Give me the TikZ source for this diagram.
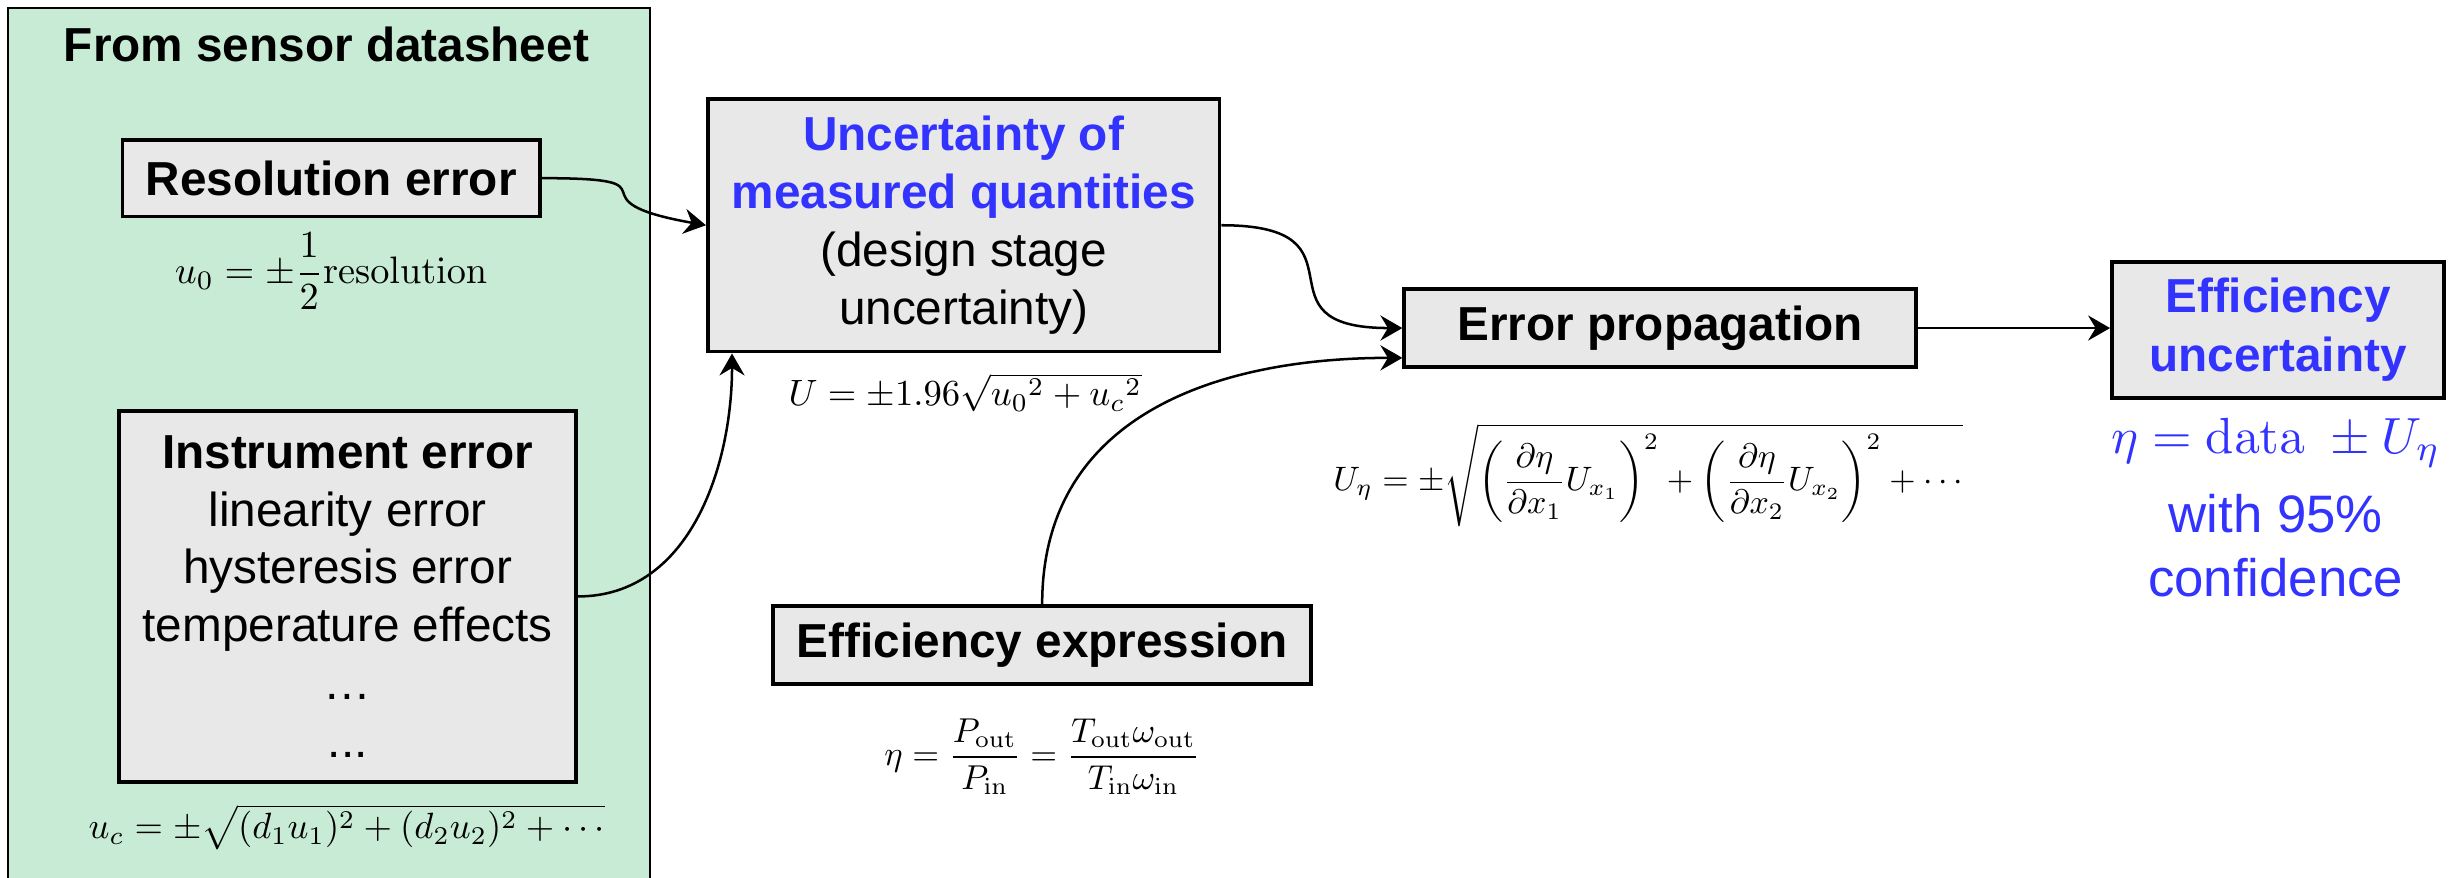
\documentclass[tikz,border=0pt]{standalone}
\usepackage{amsmath}
\usepackage[no-math]{fontspec}
\setmainfont{Liberation Sans}
\usepackage{graphicx}
\usetikzlibrary{arrows.meta}
\definecolor{grn}{RGB}{199,235,212}
\definecolor{boxgray}{RGB}{232,232,232}
\definecolor{myblue}{RGB}{51,51,255}
\begin{document}
\begin{tikzpicture}[x=0.5pt,y=-0.5pt,
  box/.style={draw, line width=1.2pt, fill=boxgray, align=center, inner sep=0pt,
    font=\fontsize{15.2}{18.4}\selectfont},
  bbox/.style={box, font=\fontsize{15.2}{18.4}\selectfont\bfseries},
  frm/.style={inner sep=0pt},
  conn/.style={line width=0.8pt, -{Stealth[length=7pt,width=8pt,inset=2.4pt]}},
]
\clip (0,0) rectangle (1568,559);
\fill[white] (0,0) rectangle (1568,559);
% source panel
\node[draw, line width=0.65pt, fill=grn, anchor=north west, minimum width=204.5pt,
  minimum height=300pt, inner sep=0pt] (src) at (4.5,4.5) {};
\node[frm, font=\fontsize{15.2}{18.4}\selectfont\bfseries] (title) at (208,28) {From sensor datasheet};

\node[bbox, minimum width=133pt, minimum height=24.5pt] (res) at (211,113.5) {Resolution error};
\node[frm] (u0) at (211,173) {\resizebox{99.5pt}{!}{$u_0=\pm\dfrac{1}{2}\mathrm{resolution}$}};

\node[box, minimum width=145.5pt, minimum height=118pt] (inst) at (221.5,380)
  {\textbf{Instrument error}\\linearity error\\hysteresis error\\temperature effects\\…\\...};
\node[frm] (uc) at (221,527) {\resizebox{164.5pt}{!}{$u_c=\pm\sqrt{(d_1u_1)^2+(d_2u_2)^2+\cdots}$}};

\node[box, minimum width=163pt, minimum height=80.5pt] (unc) at (614,143.5)
  {\textcolor{myblue}{\textbf{Uncertainty of}}\\\textcolor{myblue}{\textbf{measured quantities}}\\(design stage\\uncertainty)};
\node[frm] (U) at (615,250) {\resizebox{112.5pt}{!}{$U=\pm1.96\sqrt{{u_0}^2+{u_c}^2}$}};

\node[bbox, minimum width=163pt, minimum height=25pt] (prop) at (1057.7,209) {Error propagation};
\node[frm] (Ueta) at (1050,302.6) {\resizebox{200.5pt}{!}{$\displaystyle U_\eta=\pm\sqrt{\left(\frac{\partial\eta}{\partial x_1}U_{x_1}\right)^2+\left(\frac{\partial\eta}{\partial x_2}U_{x_2}\right)^2+\cdots}$}};

\node[bbox, minimum width=171.3pt, minimum height=25pt] (effx) at (664,411) {Efficiency expression};
\node[frm] (etaf) at (664,482) {\resizebox{100.5pt}{!}{$\displaystyle\eta=\frac{P_{\mathrm{out}}}{P_{\mathrm{in}}}=\frac{T_{\mathrm{out}}\omega_{\mathrm{out}}}{T_{\mathrm{in}}\omega_{\mathrm{in}}}$}};

\node[bbox, minimum width=105.8pt, minimum height=43.3pt, text=myblue,
  font=\fontsize{15.2}{18.8}\selectfont\bfseries] (effu) at (1451.4,210.3) {Efficiency\\uncertainty};
\node[frm, text=myblue] (res95) at (1450,282) {\resizebox{105pt}{!}{$\eta=\mathrm{data}\ \pm U_\eta$}};
\node[frm, text=myblue, align=center, font=\fontsize{16.8}{20.5}\selectfont] (conf) at (1450,347.5) {with 95\%\\confidence};

% connectors
\draw[conn] (res.east) to[out=0,in=170,looseness=2.2] (unc.west);
\draw[conn] (inst.east) to[out=0,in=-90] ([xshift=8.3pt]unc.south west);
\draw[conn] (unc.east) to[out=0,in=180,looseness=1.9] (prop.west);
\draw[conn] (effx.north) to[out=90,in=180,looseness=1.1] ([yshift=-9.5pt]prop.west);
\draw[conn] (prop.east) -- (prop.east -| effu.west);
\end{tikzpicture}
\end{document}
